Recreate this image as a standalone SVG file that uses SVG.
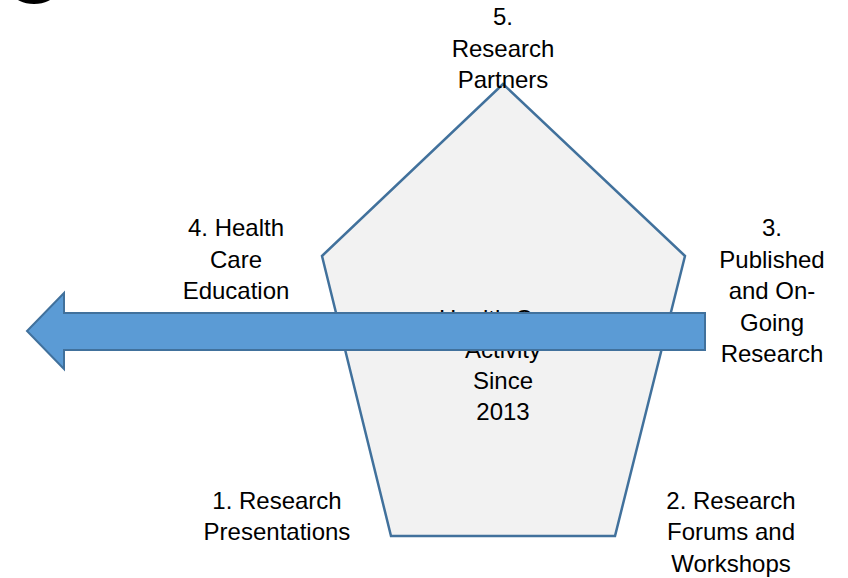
<svg xmlns="http://www.w3.org/2000/svg" width="848" height="578" viewBox="0 0 848 578">
<style>
.t{font-family:"Liberation Sans",Arial,sans-serif;font-size:24px;fill:#000;text-anchor:middle}
.pent{fill:#f2f2f2;stroke:#41719c;stroke-width:2.5;stroke-linejoin:miter}
.arrow{fill:#5b9bd5;stroke:#41719c;stroke-width:2}
</style>
<rect width="848" height="578" fill="#fff"/>
<ellipse cx="34" cy="-6" rx="20" ry="10" fill="#000"/>
<g id="pentagon">
<polygon class="pent" points="503,84 685,256 615,536 391,536 322,256"/>
<text class="t"><tspan x="503" y="327">Health Care</tspan><tspan x="503" y="358">Activity</tspan><tspan x="503" y="389">Since</tspan><tspan x="503" y="420">2013</tspan></text>
</g>
<g id="connectors">
<polygon class="arrow" points="705,313 705,350 64,350 64,369 27,331 64,293 64,313"/>
</g>
<g id="node5"><text class="t"><tspan x="503" y="25">5.</tspan><tspan x="503" y="57">Research</tspan><tspan x="503" y="88">Partners</tspan></text></g>
<g id="node4"><text class="t"><tspan x="236" y="236">4. Health</tspan><tspan x="236" y="268">Care</tspan><tspan x="236" y="299">Education</tspan></text></g>
<g id="node3"><text class="t"><tspan x="772" y="236">3.</tspan><tspan x="772" y="268">Published</tspan><tspan x="772" y="299">and On-</tspan><tspan x="772" y="331">Going</tspan><tspan x="772" y="362">Research</tspan></text></g>
<g id="node1"><text class="t"><tspan x="277" y="509">1. Research</tspan><tspan x="277" y="540">Presentations</tspan></text></g>
<g id="node2"><text class="t"><tspan x="731" y="509">2. Research</tspan><tspan x="731" y="540">Forums and</tspan><tspan x="731" y="572">Workshops</tspan></text></g>
</svg>
